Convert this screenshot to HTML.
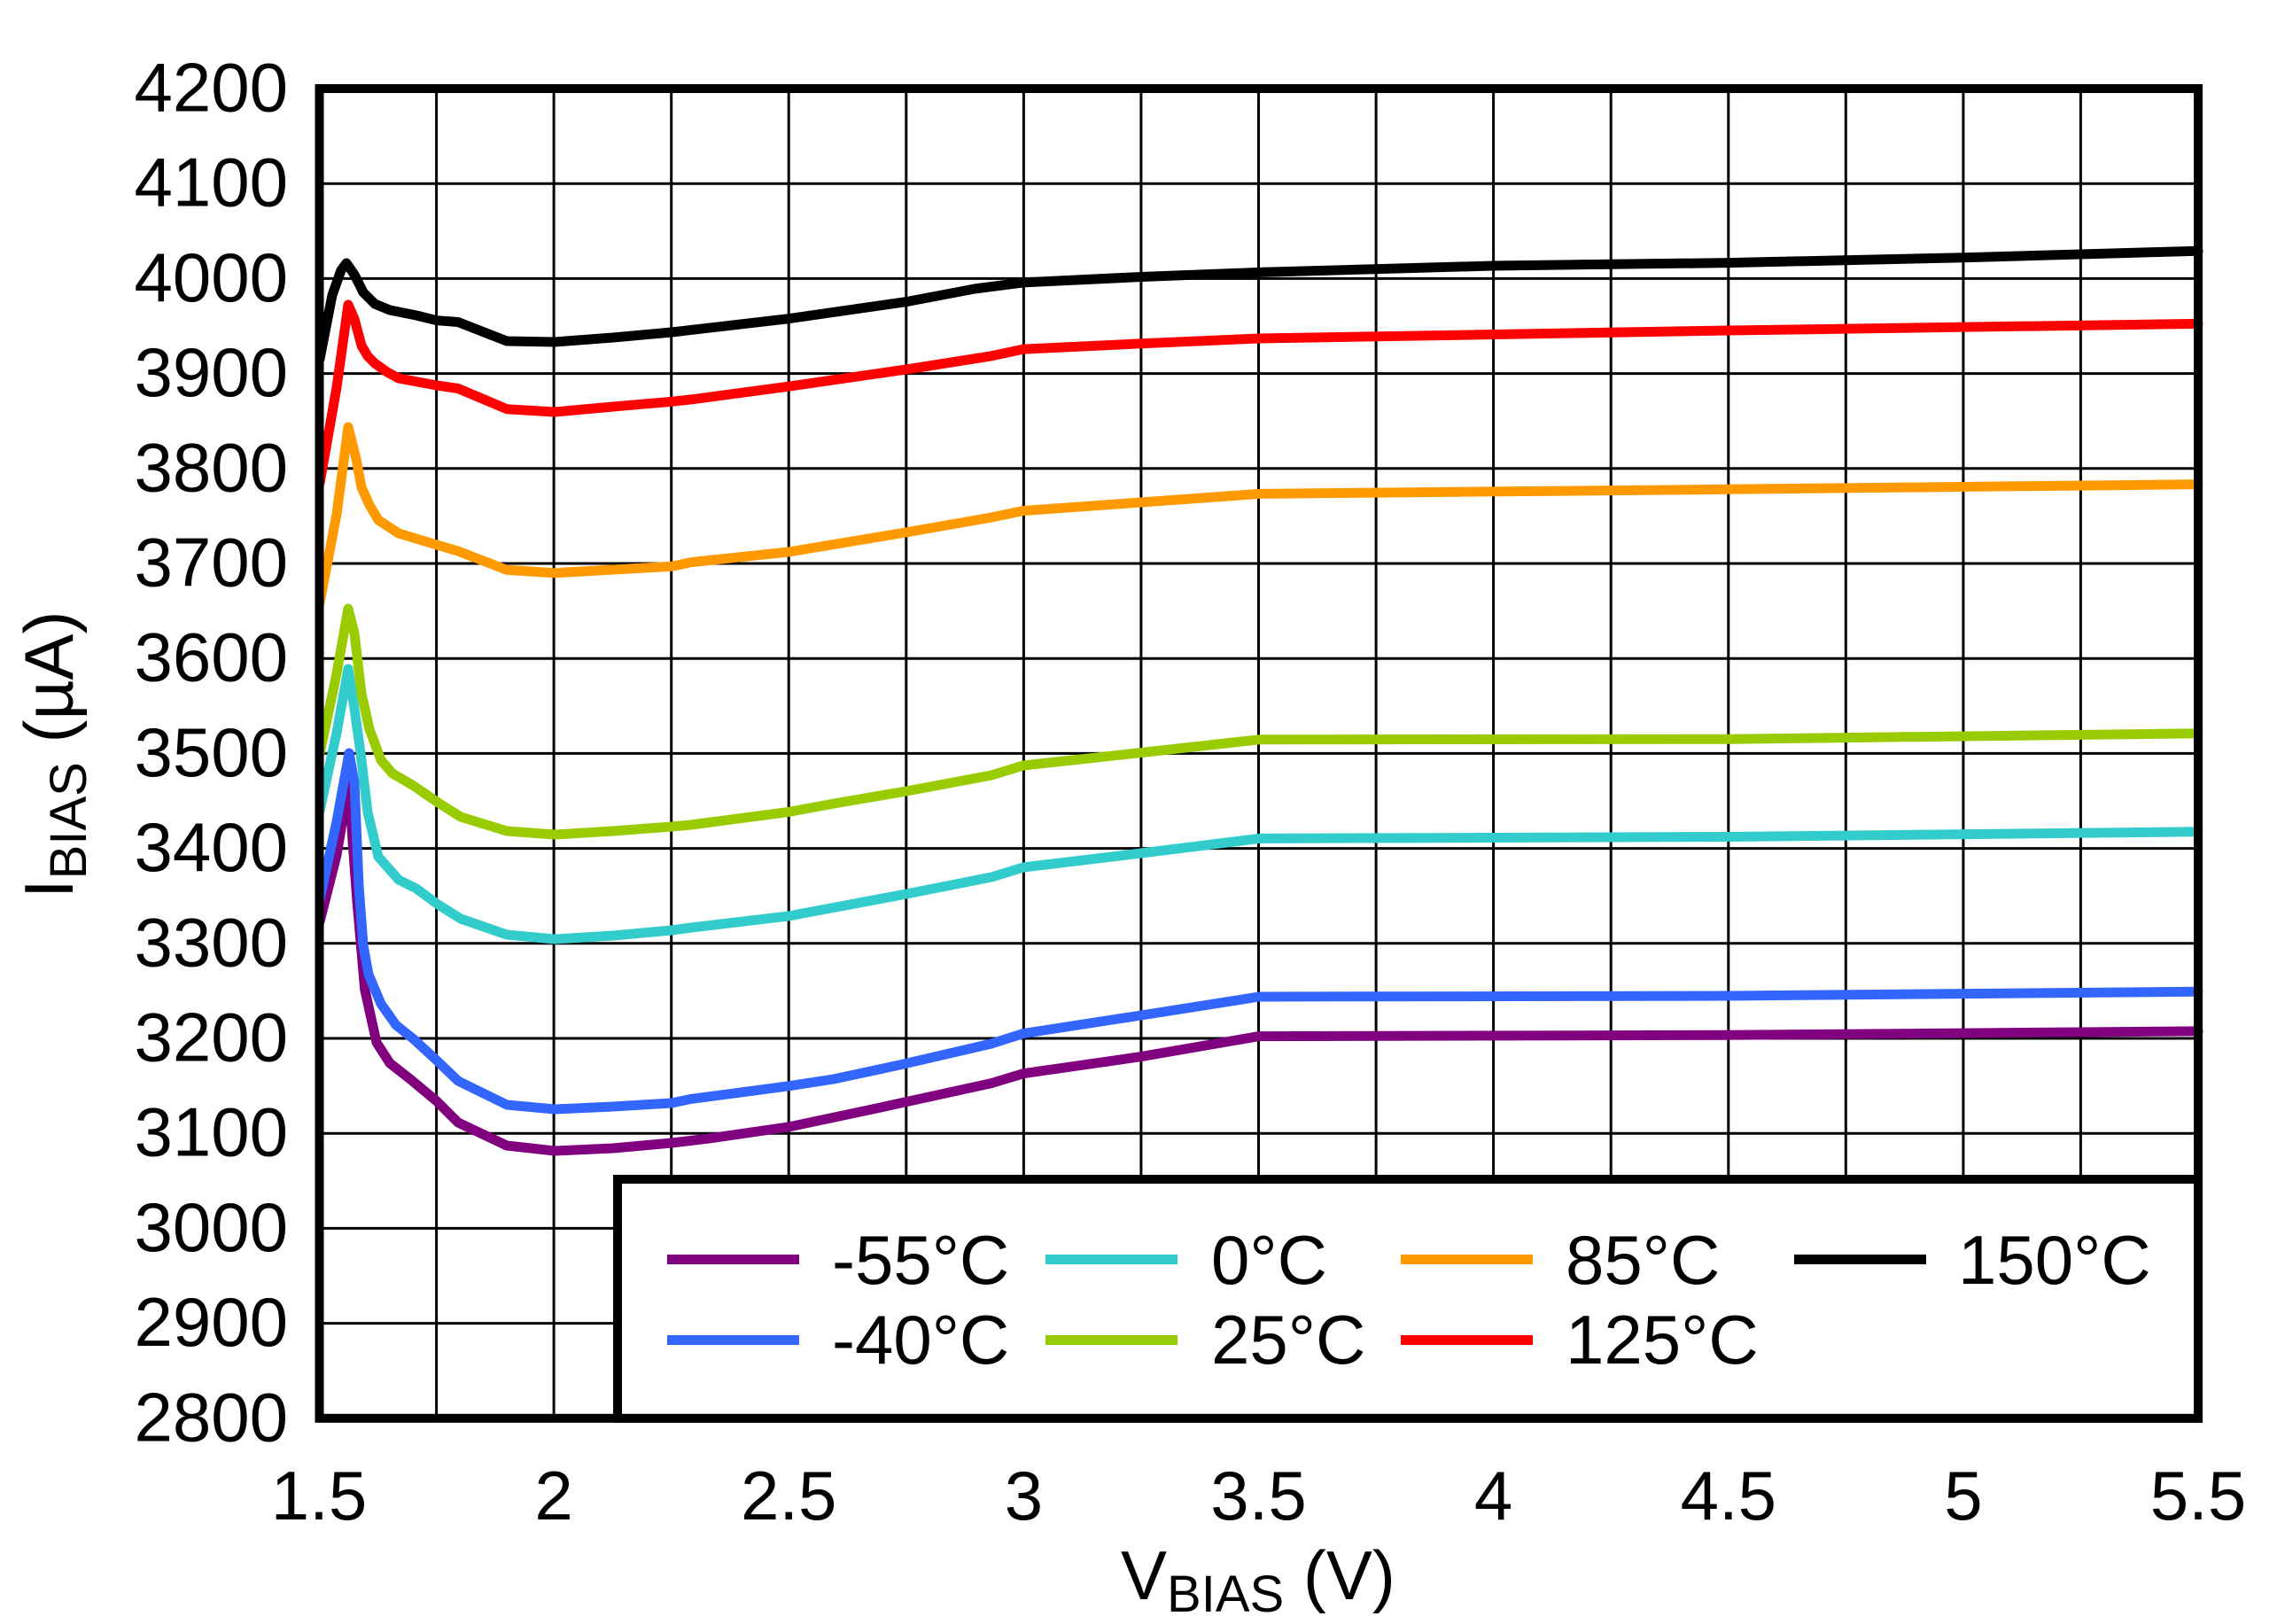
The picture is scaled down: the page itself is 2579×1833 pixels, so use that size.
<!DOCTYPE html>
<html>
<head>
<meta charset="utf-8">
<style>
  html, body { margin: 0; padding: 0; background: #fff; }
  body { width: 2579px; height: 1833px; overflow: hidden; }
  svg { display: block; }
  text { font-family: "Liberation Sans", Arial, sans-serif; fill: #000; }
</style>
</head>
<body>
<svg width="2579" height="1833" viewBox="0 0 2579 1833" xmlns="http://www.w3.org/2000/svg">
  <rect x="0" y="0" width="2579" height="1833" fill="#fff"/>

  <!-- grid -->
  <g stroke="#000" stroke-width="3" fill="none">
    <line x1="360" y1="207.2" x2="2481" y2="207.2"/>
    <line x1="360" y1="314.4" x2="2481" y2="314.4"/>
    <line x1="360" y1="421.6" x2="2481" y2="421.6"/>
    <line x1="360" y1="528.8" x2="2481" y2="528.8"/>
    <line x1="360" y1="636" x2="2481" y2="636"/>
    <line x1="360" y1="743.2" x2="2481" y2="743.2"/>
    <line x1="360" y1="850.4" x2="2481" y2="850.4"/>
    <line x1="360" y1="957.6" x2="2481" y2="957.6"/>
    <line x1="360" y1="1064.8" x2="2481" y2="1064.8"/>
    <line x1="360" y1="1172" x2="2481" y2="1172"/>
    <line x1="360" y1="1279.2" x2="2481" y2="1279.2"/>
    <line x1="360" y1="1386.4" x2="2481" y2="1386.4"/>
    <line x1="360" y1="1493.6" x2="2481" y2="1493.6"/>

    <line x1="492.6" y1="100" x2="492.6" y2="1601"/>
    <line x1="625.1" y1="100" x2="625.1" y2="1601"/>
    <line x1="757.7" y1="100" x2="757.7" y2="1601"/>
    <line x1="890.2" y1="100" x2="890.2" y2="1601"/>
    <line x1="1022.8" y1="100" x2="1022.8" y2="1601"/>
    <line x1="1155.4" y1="100" x2="1155.4" y2="1601"/>
    <line x1="1287.9" y1="100" x2="1287.9" y2="1601"/>
    <line x1="1420.5" y1="100" x2="1420.5" y2="1601"/>
    <line x1="1553.1" y1="100" x2="1553.1" y2="1601"/>
    <line x1="1685.6" y1="100" x2="1685.6" y2="1601"/>
    <line x1="1818.2" y1="100" x2="1818.2" y2="1601"/>
    <line x1="1950.8" y1="100" x2="1950.8" y2="1601"/>
    <line x1="2083.3" y1="100" x2="2083.3" y2="1601"/>
    <line x1="2215.9" y1="100" x2="2215.9" y2="1601"/>
    <line x1="2348.4" y1="100" x2="2348.4" y2="1601"/>
  </g>

  <!-- series -->
  <g fill="none" stroke-width="11" stroke-linejoin="round" stroke-linecap="round">
    <!-- -55C purple -->
    <polyline stroke="#800080" points="361,1040 380,965 394,882 398,950 403,1017 411.7,1116.7 425,1176.7 440,1200 463,1218 493,1243 517,1267 572,1293 626,1299 692,1296 758,1290 800,1285 890,1272 994,1250 1023,1243.6 1119,1222.6 1155,1211.7 1288,1192.6 1421,1169.6 1951,1168.3 2481,1163.9"/>
    <!-- -40C blue -->
    <polyline stroke="#3366FF" points="361,1015 380,927 394,850 400,883 405,1000 410,1067 416,1100 430,1133 447,1157 467,1173 493,1197 517,1220 572,1247 626,1252 692,1249 758,1245 780,1240.4 890,1225.8 941,1218 1023,1200.3 1119,1178 1155,1166.5 1288,1146 1421,1125 1951,1124 2481,1119.3"/>
    <!-- 0C cyan -->
    <polyline stroke="#33CCCC" points="361,915 380,827 393,755 400,800 407,850 415,917 427,967 450,993 470,1003 493,1020 520,1037 572,1055 626,1060 692,1056 758,1050 780,1047 890,1034 1023,1009 1119,990 1155,979 1288,963 1421,946.4 1951,944.5 2481,938.8"/>
    <!-- 25C green -->
    <polyline stroke="#99CC00" points="361,850 380,760 393,687 400,715 408,783 417,823 430,858 443,873 467,887 493,905 520,922 572,938 626,942 692,938 758,933 780,931 890,916.5 941,907 1023,893 1119,875 1155,864 1288,849.5 1421,834.8 1951,834.2 2481,827.8"/>
    <!-- 85C orange -->
    <polyline stroke="#FF9900" points="361,680 380,580 393,482 401.7,516.7 408,550 417,570 427,587 450,602 493,615 517,622 572,643.3 626,646.7 692,643 758,639.3 780,634.6 890,623 1023,600.8 1119,584 1155,576.5 1288,567 1421,557.4 1951,552.3 2481,546.6"/>
    <!-- 125C red -->
    <polyline stroke="#FF0000" points="361,545 380,437 393,344 400,360 408,390 415,402 423,410 437,420 450,427 493,435 517,438.5 572,461.7 626,465 692,459 758,453.3 780,450.9 890,436.2 1023,417 1119,401.8 1155,394.1 1288,387.8 1421,382 1951,373 2481,365.4"/>
    <!-- 150C black -->
    <polyline stroke="#000000" points="361,405 375,333 385,305 391,297 400,310 410,330 423,343 440,350 470,356 493,361.7 517,363.5 572,385 626,386 692,381 758,375 780,372.4 890,359.7 1023,340.6 1100,326 1155,318.9 1288,312.5 1421,307.4 1685,300 1951,296.6 2216,290.8 2481,283.2"/>
  </g>

  <!-- frame -->
  <rect x="360.5" y="100" width="2120.5" height="1500.8" fill="none" stroke="#000" stroke-width="10"/>

  <!-- legend -->
  <rect x="697" y="1331" width="1784" height="269.8" fill="#fff" stroke="#000" stroke-width="10"/>
  <g stroke-width="11" fill="none">
    <line x1="753" y1="1421.5" x2="902" y2="1421.5" stroke="#800080"/>
    <line x1="753" y1="1512.5" x2="902" y2="1512.5" stroke="#3366FF"/>
    <line x1="1180" y1="1421.5" x2="1329" y2="1421.5" stroke="#33CCCC"/>
    <line x1="1180" y1="1512.5" x2="1329" y2="1512.5" stroke="#99CC00"/>
    <line x1="1581" y1="1421.5" x2="1730" y2="1421.5" stroke="#FF9900"/>
    <line x1="1581" y1="1512.5" x2="1730" y2="1512.5" stroke="#FF0000"/>
    <line x1="2025" y1="1421.5" x2="2174" y2="1421.5" stroke="#000000"/>
  </g>
  <g font-size="78">
    <text x="939" y="1449">-55°C</text>
    <text x="939" y="1539">-40°C</text>
    <text x="1367" y="1449">0°C</text>
    <text x="1367" y="1539">25°C</text>
    <text x="1767" y="1449">85°C</text>
    <text x="1767" y="1539">125°C</text>
    <text x="2210" y="1449">150°C</text>
  </g>

  <!-- y tick labels -->
  <g font-size="78" text-anchor="end">
    <text x="325" y="125.5">4200</text>
    <text x="325" y="232.7">4100</text>
    <text x="325" y="339.9">4000</text>
    <text x="325" y="447.1">3900</text>
    <text x="325" y="554.3">3800</text>
    <text x="325" y="661.5">3700</text>
    <text x="325" y="768.7">3600</text>
    <text x="325" y="875.9">3500</text>
    <text x="325" y="983.1">3400</text>
    <text x="325" y="1090.3">3300</text>
    <text x="325" y="1197.5">3200</text>
    <text x="325" y="1304.7">3100</text>
    <text x="325" y="1411.9">3000</text>
    <text x="325" y="1519.1">2900</text>
    <text x="325" y="1626.3">2800</text>
  </g>

  <!-- x tick labels -->
  <g font-size="78" text-anchor="middle">
    <text x="360" y="1715">1.5</text>
    <text x="625.1" y="1715">2</text>
    <text x="890.2" y="1715">2.5</text>
    <text x="1155.4" y="1715">3</text>
    <text x="1420.5" y="1715">3.5</text>
    <text x="1685.6" y="1715">4</text>
    <text x="1950.8" y="1715">4.5</text>
    <text x="2215.9" y="1715">5</text>
    <text x="2481" y="1715">5.5</text>
  </g>

  <!-- axis titles -->
  <text x="1265" y="1805" font-size="78">V<tspan font-size="58" dy="14">BIAS</tspan><tspan dy="-14"> (V)</tspan></text>
  <g transform="translate(82,1014) rotate(-90)">
    <text x="0" y="0" font-size="78">I<tspan font-size="58" dy="15">BIAS</tspan><tspan dy="-15"> (µA)</tspan></text>
  </g>
</svg>
</body>
</html>
